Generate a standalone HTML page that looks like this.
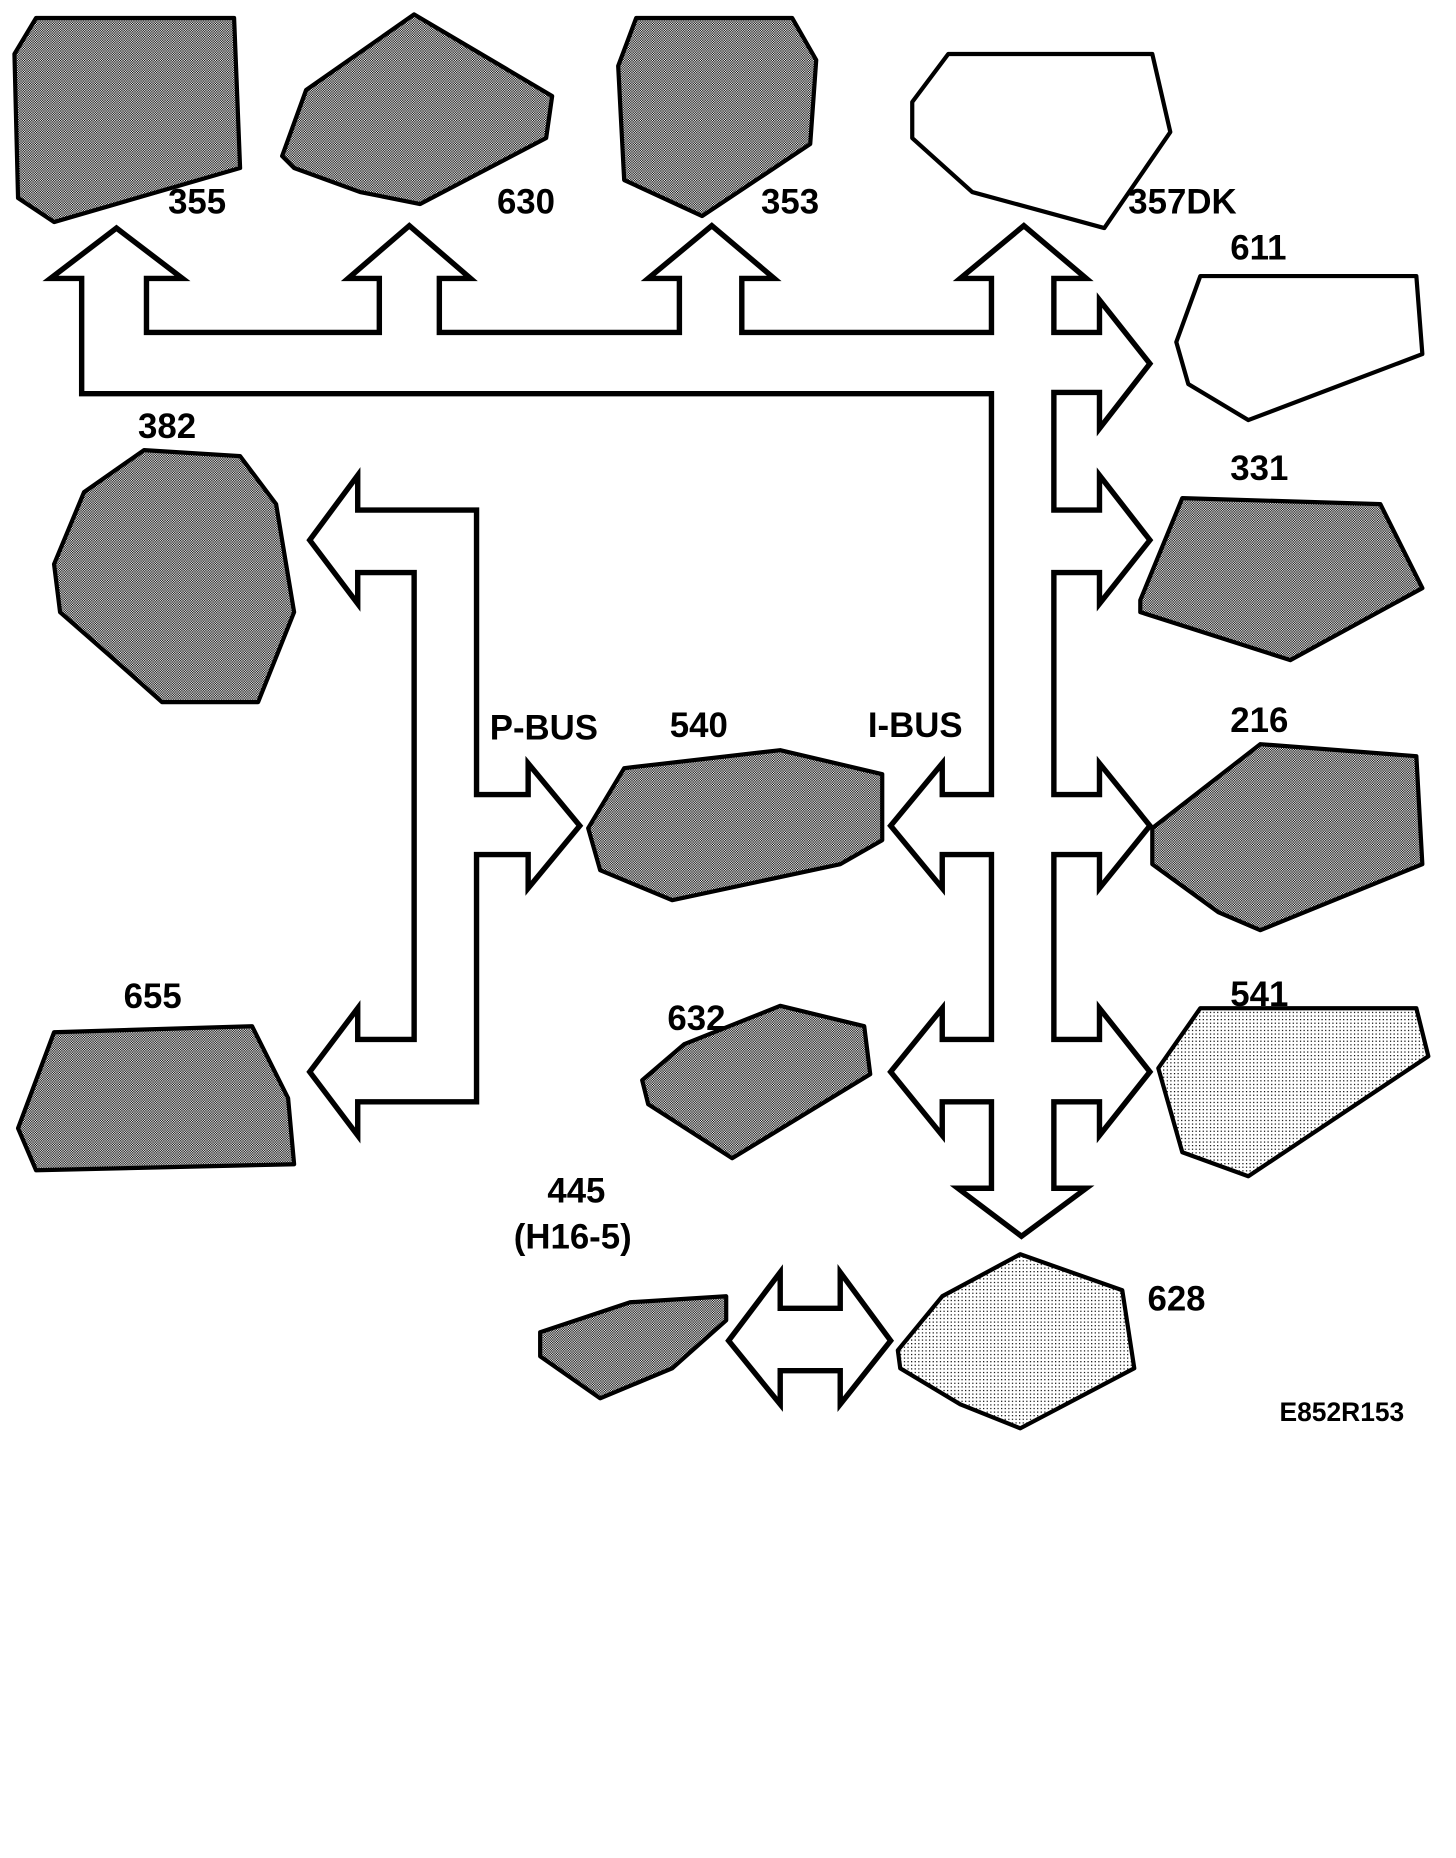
<!DOCTYPE html>
<html><head><meta charset="utf-8"><style>
html,body{margin:0;padding:0;background:#fff;}
svg{display:block;}
text{font-family:"Liberation Sans",Arial,sans-serif;font-weight:bold;fill:#000;}
</style></head><body>
<svg width="1456" height="1858" viewBox="0 0 1213 1548" xmlns="http://www.w3.org/2000/svg">
<defs>
<pattern id="d" width="2" height="2" patternUnits="userSpaceOnUse">
<rect width="2" height="2" fill="#fff"/><rect width="1" height="1" fill="#000"/><rect x="1" y="1" width="1" height="1" fill="#000"/>
</pattern>
<pattern id="l" width="3" height="3" patternUnits="userSpaceOnUse">
<rect width="3" height="3" fill="#fff"/><rect width="1" height="1" fill="#000"/>
</pattern>
</defs>
<rect width="1213" height="1548" fill="#fff"/>
<g fill="#fff" stroke="#000" stroke-width="4.5" stroke-linejoin="miter">
<path d="M97,190 L152,232 L122,232 L122,277 L316,277 L316,232 L290,232 L341,188 L392,232 L366,232 L366,277 L566,277 L566,232 L540,232 L593,188 L645,232 L618,232 L618,277 L826,277 L826,232 L800,232 L853,188 L905,232 L878,232 L878,277 L916,277 L916,250 L958,303 L916,357 L916,327 L878,327 L878,425 L916,425 L916,396 L958,450 L916,503 L916,477 L878,477 L878,662 L916,662 L916,636 L958,688 L916,740 L916,712 L878,712 L878,866 L916,866 L916,840 L958,893 L916,946 L916,918 L878,918 L878,990 L905,990 L851,1030 L798,990 L826,990 L826,918 L785,918 L785,946 L742,893 L785,840 L785,866 L826,866 L826,712 L785,712 L785,740 L742,688 L785,636 L785,662 L826,662 L826,328 L68,328 L68,232 L42,232 Z"/>
<path d="M258,450 L298,396 L298,425 L397,425 L397,662 L440,662 L440,636 L483,688 L440,740 L440,712 L397,712 L397,918 L298,918 L298,946 L258,893 L298,840 L298,866 L345,866 L345,477 L298,477 L298,503 Z"/>
<path d="M607,1117 L650,1060 L650,1090 L700,1090 L700,1060 L742,1117 L700,1170 L700,1142 L650,1142 L650,1170 Z"/>
</g>
<g stroke="#000" stroke-width="3.5" stroke-linejoin="round">
<polygon fill="url(#d)" points="12,45 30,15 195,15 200,140 45,185 15,165"/>
<polygon fill="url(#d)" points="235,130 255,75 345,12 460,80 455,115 350,170 300,160 245,140"/>
<polygon fill="url(#d)" points="515,55 530,15 660,15 680,50 675,120 585,180 520,150"/>
<polygon fill="#fff" points="760,85 790,45 960,45 975,110 920,190 810,160 760,115"/>
<polygon fill="#fff" points="980,285 1000,230 1180,230 1185,295 1040,350 990,320"/>
<polygon fill="url(#d)" points="950,500 985,415 1150,420 1185,490 1075,550 950,510"/>
<polygon fill="url(#d)" points="45,470 70,410 120,375 200,380 230,420 245,510 215,585 135,585 90,545 50,510"/>
<polygon fill="url(#d)" points="960,690 1050,620 1180,630 1185,720 1050,775 1015,760 960,720"/>
<polygon fill="url(#d)" points="15,940 45,860 210,855 240,915 245,970 30,975"/>
<polygon fill="url(#d)" points="490,690 520,640 650,625 735,645 735,700 700,720 560,750 500,725"/>
<polygon fill="url(#d)" points="535,900 570,870 650,838 720,855 725,895 610,965 540,920"/>
<polygon fill="url(#l)" points="965,890 1000,840 1180,840 1190,880 1040,980 985,960"/>
<polygon fill="url(#d)" points="450,1130 450,1110 525,1085 605,1080 605,1100 560,1140 500,1165"/>
<polygon fill="url(#l)" points="748,1125 785,1080 850,1045 935,1075 945,1140 850,1190 800,1170 750,1140"/>
</g>
<g font-size="29">
<text x="140" y="178">355</text>
<text x="414" y="178">630</text>
<text x="634" y="178">353</text>
<text x="940" y="178">357DK</text>
<text x="1025" y="216">611</text>
<text x="115" y="365">382</text>
<text x="1025" y="400">331</text>
<text x="408" y="616">P-BUS</text>
<text x="558" y="614">540</text>
<text x="723" y="614">I-BUS</text>
<text x="1025" y="610">216</text>
<text x="103" y="840">655</text>
<text x="556" y="858">632</text>
<text x="1025" y="838">541</text>
<text x="456" y="1002">445</text>
<text x="428" y="1040">(H16-5)</text>
<text x="956" y="1092">628</text>
</g>
<text x="1066" y="1184" font-size="22">E852R153</text>
</svg>
</body></html>
